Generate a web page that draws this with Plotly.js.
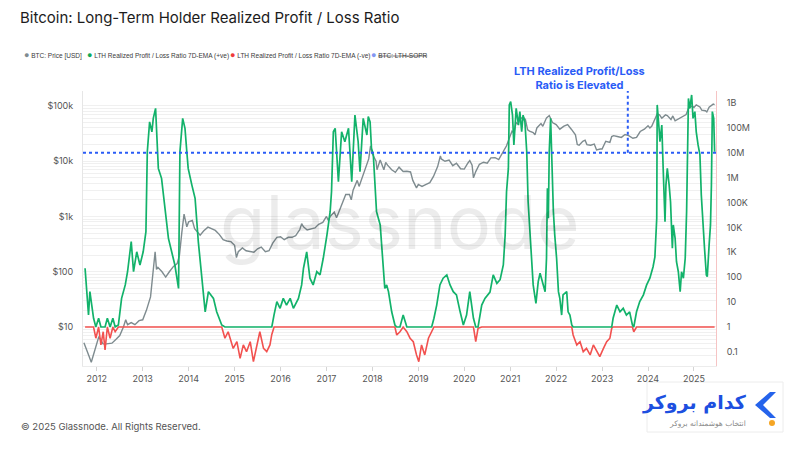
<!DOCTYPE html>
<html>
<head>
<meta charset="utf-8">
<script src="https://cdn.plot.ly/plotly-3.0.1.min.js"></script>
<style>html,body{margin:0;padding:0;background:#fff;}#chart{width:800px;height:450px;}</style>
</head>
<body>
<div id="chart"></div>
<script>
// ---------- DATA ----------
const yearTicks = [2012,2013,2014,2015,2016,2017,2018,2019,2020,2021,2022,2023,2024,2025];
const yearTickText = ['2012','2013','2014','2015','2016','2017','2018','2019','2020','2021','2022','2023','2024','2025'];

const priceTickVals = [10,100,1000,10000,100000];
const priceTickText = ['$10','$100','$1k','$10k','$100k'];
const ratioTickVals = [0.1,1,10,100,1e3,1e4,1e5,1e6,1e7,1e8,1e9];
const ratioTickText = ['0.1','1','10','100','1K','10K','100K','1M','10M','100M','1B'];

// BTC price [USD]
const priceYears = [2011.72,2011.78,2011.83,2011.88,2011.92,2011.96,2012.00,2012.04,2012.08,2012.13,2012.17,2012.25,2012.33,2012.42,2012.50,2012.58,2012.63,2012.67,2012.75,2012.83,2012.92,
2013.00,2013.08,2013.17,2013.22,2013.27,2013.30,2013.33,2013.42,2013.50,2013.58,2013.67,2013.75,2013.80,2013.85,2013.90,2013.96,
2014.00,2014.08,2014.13,2014.25,2014.33,2014.42,2014.50,2014.58,2014.67,2014.75,2014.83,2014.92,
2015.00,2015.04,2015.08,2015.17,2015.25,2015.33,2015.42,2015.50,2015.58,2015.67,2015.75,2015.83,2015.92,
2016.00,2016.08,2016.17,2016.25,2016.33,2016.42,2016.46,2016.50,2016.58,2016.67,2016.75,2016.83,2016.92,
2017.00,2017.04,2017.08,2017.17,2017.22,2017.25,2017.33,2017.42,2017.50,2017.54,2017.58,2017.67,2017.71,2017.75,2017.83,2017.92,2017.96,
2018.00,2018.08,2018.10,2018.17,2018.25,2018.29,2018.33,2018.42,2018.50,2018.58,2018.67,2018.75,2018.83,2018.88,2018.96,
2019.00,2019.08,2019.17,2019.25,2019.33,2019.42,2019.48,2019.50,2019.58,2019.67,2019.75,2019.83,2019.92,
2020.00,2020.08,2020.12,2020.17,2020.20,2020.25,2020.33,2020.42,2020.50,2020.58,2020.67,2020.75,2020.83,2020.92,
2021.00,2021.04,2021.08,2021.13,2021.17,2021.21,2021.28,2021.33,2021.38,2021.42,2021.50,2021.54,2021.58,2021.67,2021.71,2021.79,2021.85,2021.92,
2022.00,2022.08,2022.17,2022.25,2022.33,2022.42,2022.46,2022.50,2022.58,2022.63,2022.67,2022.75,2022.83,2022.88,2022.96,
2023.00,2023.08,2023.17,2023.21,2023.25,2023.33,2023.42,2023.50,2023.58,2023.67,2023.75,2023.83,2023.92,
2024.00,2024.04,2024.08,2024.17,2024.20,2024.25,2024.30,2024.38,2024.42,2024.50,2024.54,2024.59,2024.67,2024.75,2024.83,2024.88,2024.96,
2025.00,2025.05,2025.13,2025.17,2025.25,2025.28,2025.33,2025.40,2025.42,2025.45];
const priceUsd = [5.2,4.0,3.0,2.3,3.0,4.1,5.5,6.5,6.0,5.0,4.9,5.0,5.1,6.0,7.0,10.0,13.5,11.0,12.0,11.0,13.0,
13.5,20,35,90,230,110,120,100,80,100,125,140,200,500,1100,650,
800,850,600,460,550,640,600,560,470,380,360,350,
300,180,230,270,240,235,225,260,280,230,240,330,420,
430,380,420,420,450,580,740,650,570,600,620,720,780,
1000,850,1000,1200,950,1100,1500,2500,2500,2000,3000,4500,3500,4400,6500,11000,19000,
13500,10000,7000,10500,7000,9500,8500,7000,6300,7800,6500,6600,6400,4500,3300,
3800,3500,3800,4100,5300,8000,12500,11000,10000,10500,8300,9200,7300,
7200,9300,10300,8500,5000,6500,8800,9600,9200,11500,11600,10700,13800,19000,
29000,35000,33000,50000,47000,58000,63000,57000,37000,35000,33000,30000,40000,48000,43000,61000,67000,50000,
46000,38000,43000,46000,38000,30000,20000,19500,23000,24000,20000,19500,20500,16000,16600,
16600,23000,22000,28000,29000,28000,27000,30500,29000,26000,27000,34500,38000,
44000,40000,43000,62000,72000,69000,60000,69000,67000,57000,66000,54000,59000,63000,70000,90000,100000,
94000,105000,96000,84000,82000,78000,95000,104000,108000,106000];

// LTH Realized Profit / Loss Ratio 7D-EMA, read as log10 values
const ratioYears = [2011.745,2011.82,2011.85,2011.93,2011.98,2012.04,2012.09,2012.14,2012.18,2012.23,2012.29,2012.35,2012.40,2012.47,2012.54,2012.62,2012.67,2012.75,2012.80,2012.87,2012.94,
2013.01,2013.07,2013.10,2013.15,2013.20,2013.23,2013.28,2013.34,2013.41,2013.49,2013.56,2013.63,2013.70,2013.78,2013.81,2013.87,2013.92,2013.96,2013.99,
2014.07,2014.14,2014.21,2014.29,2014.36,2014.43,2014.54,2014.61,2014.72,2014.79,2014.86,2014.97,
2015.05,2015.12,2015.19,2015.26,2015.34,2015.41,2015.48,2015.55,2015.63,2015.70,2015.77,2015.81,2015.86,2015.92,2015.99,
2016.06,2016.13,2016.21,2016.28,2016.39,2016.46,2016.50,2016.57,2016.64,2016.71,2016.79,2016.86,2016.93,
2017.01,2017.08,2017.11,2017.15,2017.19,2017.26,2017.33,2017.40,2017.48,2017.55,2017.62,2017.69,2017.73,2017.80,2017.88,2017.91,2017.95,2017.98,
2018.02,2018.09,2018.17,2018.24,2018.27,2018.31,2018.35,2018.42,2018.49,2018.53,2018.60,2018.67,2018.75,2018.82,2018.89,2018.96,
2019.01,2019.07,2019.14,2019.22,2019.29,2019.34,2019.40,2019.47,2019.54,2019.62,2019.69,2019.76,2019.83,2019.91,2019.98,
2020.05,2020.12,2020.20,2020.25,2020.30,2020.38,2020.45,2020.56,2020.63,2020.71,2020.78,2020.85,2020.89,2020.92,2020.96,2020.98,
2021.01,2021.05,2021.08,2021.13,2021.18,2021.21,2021.25,2021.28,2021.32,2021.36,2021.39,2021.43,2021.47,2021.50,2021.56,2021.61,2021.65,2021.71,2021.76,2021.79,2021.81,2021.83,2021.85,2021.88,2021.90,2021.94,2021.97,
2022.01,2022.05,2022.08,2022.12,2022.15,2022.23,2022.26,2022.30,2022.34,2022.37,2022.45,2022.52,2022.59,2022.66,2022.74,2022.81,2022.88,2022.95,
2023.03,2023.10,2023.17,2023.21,2023.24,2023.32,2023.39,2023.46,2023.53,2023.60,2023.66,2023.69,2023.75,2023.82,2023.90,2023.97,
2024.04,2024.11,2024.15,2024.19,2024.20,2024.22,2024.24,2024.26,2024.30,2024.33,2024.37,2024.39,2024.42,2024.46,2024.49,2024.53,2024.55,2024.59,2024.62,2024.66,2024.70,2024.73,2024.77,2024.81,2024.84,2024.88,2024.91,2024.95,2024.98,
2025.02,2025.05,2025.09,2025.13,2025.16,2025.20,2025.23,2025.27,2025.29,2025.33,2025.36,2025.38,2025.40,2025.43,2025.45];
const ratioLog10 = [2.36,0.48,1.42,0.35,-0.45,0.35,-0.72,-0.19,-0.92,0.35,-0.45,0.35,-0.19,0.08,1.15,1.69,2.22,3.43,2.22,3.02,2.49,
3.02,3.83,7.04,8.24,7.84,8.38,8.78,6.37,5.97,4.63,3.56,3.02,2.49,1.55,7.04,8.38,7.98,7.04,6.37,
5.70,5.17,3.43,1.96,0.61,1.42,1.15,0.61,0.08,-0.45,-0.19,-0.86,
-0.59,-1.26,-0.72,-0.99,-0.59,-1.39,-0.72,-0.19,-0.86,-0.99,-0.72,-0.30,0.50,1.02,0.75,
1.15,0.88,1.15,0.75,1.15,1.69,2.36,3.02,1.96,1.69,2.22,2.09,2.76,
3.69,4.63,5.43,7.84,7.98,5.84,7.84,7.44,7.98,5.84,8.51,7.44,6.24,8.38,7.71,8.45,8.24,7.18,
6.91,4.63,4.10,2.22,1.55,1.69,1.42,0.61,0.08,-0.32,-0.19,0.48,-0.19,-0.45,-0.59,-1.12,
-1.39,-0.72,-1.12,-0.45,-0.19,0.35,0.88,1.69,1.96,2.09,1.69,1.42,1.29,0.61,0.08,
0.48,1.42,0.35,-0.59,-0.05,0.88,1.15,1.40,2.09,1.75,1.90,2.49,3.69,5.43,6.37,8.92,
9.05,8.51,7.31,8.78,8.11,8.65,7.84,8.51,8.24,7.04,5.03,3.69,2.49,1.69,0.95,1.82,2.16,1.69,1.42,2.76,5.57,4.37,7.04,8.38,7.04,4.63,3.69,
2.76,1.42,1.15,0.48,1.29,1.42,0.61,0.48,0.08,-0.32,-0.72,-0.59,-0.99,-0.86,-1.12,-0.72,-0.99,-1.19,
-0.86,-0.59,-0.45,-0.05,0.35,0.88,0.61,0.75,0.48,0.61,0.08,-0.19,0.61,1.02,1.29,1.69,
1.96,2.42,2.82,4.37,8.92,8.24,7.98,7.44,8.11,6.37,4.23,5.70,6.37,5.70,5.03,3.16,4.10,3.56,2.62,2.22,1.42,2.22,1.96,2.76,4.63,9.18,8.78,9.32,8.38,
8.65,7.84,7.31,6.91,5.30,3.83,3.16,2.09,2.02,3.29,4.10,5.70,8.65,8.38,7.04];

const breakEven = 1;               // ratio = 1 separates +ve / -ve
const elevatedThreshold = 1e7;     // "elevated" reference level
const elevatedMarkerYear = 2023.56;
const elevatedMarkerTop = 3e9;

// ---------- DERIVED SERIES ----------
const ratio = ratioLog10.map(v => Math.pow(10, v));
const ratioPos = ratio.map(v => Math.max(v, breakEven));
const ratioNeg = ratio.map(v => Math.min(v, breakEven));

// ---------- LAYOUT HELPERS ----------
const W = 800, H = 450, L = 83, R = 716, T = 91, B = 366;
const px = x => (x - L) / (R - L);
const py = y => (B - y) / (B - T);
const xRange = [2011.70, 2025.48];

// left-axis grid lines (decades and 2..9 minors), labels only on decades
const gridVals = [], gridText = [];
for (let e = 0; e <= 5; e++) {
  for (let m = 1; m <= 9; m++) {
    const v = m * Math.pow(10, e);
    if (v < 2 || v > 200000) continue;
    gridVals.push(v);
    const idx = priceTickVals.indexOf(v);
    gridText.push(idx >= 0 ? priceTickText[idx] : '');
  }
}

const traces = [
  {x: priceYears, y: priceUsd, type: 'scatter', mode: 'lines', yaxis: 'y',
   line: {color: '#7e8b8f', width: 1.4}, name: 'BTC: Price [USD]'},
  {x: ratioYears, y: ratioNeg, type: 'scatter', mode: 'lines', yaxis: 'y2',
   line: {color: '#f2514f', width: 1.6}, name: 'LTH Realized Profit / Loss Ratio 7D-EMA (-ve)'},
  {x: ratioYears, y: ratioPos, type: 'scatter', mode: 'lines', yaxis: 'y2',
   line: {color: '#12b26a', width: 1.7}, name: 'LTH Realized Profit / Loss Ratio 7D-EMA (+ve)'},
  {x: xRange, y: [elevatedThreshold, elevatedThreshold], type: 'scatter', mode: 'lines', yaxis: 'y2',
   line: {color: '#2a5cf6', width: 2, dash: 'dot'}, name: 'threshold'},
  {x: [elevatedMarkerYear, elevatedMarkerYear], y: [elevatedThreshold, elevatedMarkerTop], type: 'scatter', mode: 'lines', yaxis: 'y2',
   line: {color: '#2a5cf6', width: 2, dash: 'dot'}, name: 'marker'}
];

const legendItems = [
  {x: 22, color: '#7f8b90', text: 'BTC: Price [USD]'},
  {x: 84.5, color: '#0fa958', text: 'LTH Realized Profit / Loss Ratio 7D-EMA (+ve)'},
  {x: 228, color: '#ef3b3b', text: 'LTH Realized Profit / Loss Ratio 7D-EMA (-ve)'},
  {x: 369, color: '#8396f2', text: '<s>BTC: LTH-SOPR</s>'}
];

const annotations = legendItems.map(it => ({
  xref: 'paper', yref: 'paper', x: px(it.x), y: py(55), xanchor: 'left', yanchor: 'middle',
  showarrow: false, text: "<span style='color:" + it.color + ";font-size:9px'>●</span> " + it.text,
  font: {family: 'Liberation Sans, Arial, sans-serif', size: 6.5, color: '#3a3a3a'}
}));

annotations.push(
  {xref: 'paper', yref: 'paper', x: px(400), y: py(222), xanchor: 'center', yanchor: 'middle',
   showarrow: false, text: 'glassnode',
   font: {family: 'Inter, Roboto, sans-serif', size: 74, color: 'rgba(0,0,0,0.075)'}},
  {xref: 'paper', yref: 'paper', x: px(579), y: py(77.5), xanchor: 'center', yanchor: 'middle',
   showarrow: false, align: 'center', text: '<b>LTH Realized Profit/Loss<br>Ratio is Elevated</b>',
   font: {family: 'Inter, Roboto, sans-serif', size: 11, color: '#2a5cf6'}},
  {xref: 'paper', yref: 'paper', x: px(19), y: py(426), xanchor: 'left', yanchor: 'middle',
   showarrow: false, text: '© 2025 Glassnode. All Rights Reserved.',
   font: {family: 'Inter, Roboto, sans-serif', size: 9.5, color: '#555'}},
  {xref: 'paper', yref: 'paper', x: px(749), y: py(402), xanchor: 'right', yanchor: 'middle',
   showarrow: false, text: '<b>کدام بروکر</b>',
   font: {family: 'DejaVu Sans, sans-serif', size: 19, color: '#1d4fe0'}},
  {xref: 'paper', yref: 'paper', x: px(748), y: py(423.5), xanchor: 'right', yanchor: 'middle',
   showarrow: false, text: 'انتخاب هوشمندانه بروکر',
   font: {family: 'DejaVu Sans, sans-serif', size: 7.5, color: '#8a8a8a'}}
);

const shapes = [
  {type: 'rect', xref: 'paper', yref: 'paper', x0: px(647), x1: px(783), y0: py(432), y1: py(382),
   fillcolor: '#ffffff', line: {color: '#ececec', width: 1}, layer: 'below'},
  {type: 'path', xref: 'paper', yref: 'paper',
   path: 'M ' + px(770) + ',' + py(392) + ' L ' + px(755) + ',' + py(405) + ' L ' + px(770) + ',' + py(418) +
         ' L ' + px(776) + ',' + py(418) + ' L ' + px(763) + ',' + py(405) + ' L ' + px(776) + ',' + py(392) + ' Z',
   fillcolor: '#2563eb', line: {width: 0}},
  {type: 'circle', xref: 'paper', yref: 'paper', x0: px(769), x1: px(775), y0: py(426), y1: py(420),
   fillcolor: '#f5a524', line: {width: 0}}
];

const layout = {
  width: W, height: H,
  margin: {l: L, r: W - R, t: T, b: H - B, pad: 0},
  paper_bgcolor: '#ffffff', plot_bgcolor: '#ffffff',
  showlegend: false,
  hovermode: false,
  title: {text: 'Bitcoin: Long-Term Holder Realized Profit / Loss Ratio',
          xref: 'container', yref: 'container', x: 20 / W, xanchor: 'left', y: 1 - 18 / H, yanchor: 'middle',
          font: {family: 'Inter, Roboto, sans-serif', size: 15, color: '#1c1c1c'}},
  font: {family: 'Inter, Roboto, sans-serif', color: '#555'},
  xaxis: {type: 'linear', range: xRange, tickmode: 'array', tickvals: yearTicks, ticktext: yearTickText,
          ticks: 'outside', ticklen: 4, tickcolor: '#d4d4d4', showgrid: false, zeroline: false,
          showline: true, linecolor: '#ececec', linewidth: 1,
          tickfont: {size: 9, color: '#555'}},
  yaxis: {type: 'log', range: [0.294, 5.271], tickmode: 'array', tickvals: gridVals, ticktext: gridText,
          ticks: '', showgrid: true, gridcolor: '#f0f0f0', gridwidth: 1, zeroline: false,
          showline: true, linecolor: '#e6e6e6', ticklabelstandoff: 7,
          tickfont: {size: 9, color: '#555'}},
  yaxis2: {type: 'log', overlaying: 'y', side: 'right', range: [-1.566, 9.478],
           tickmode: 'array', tickvals: ratioTickVals, ticktext: ratioTickText,
           ticks: '', showgrid: false, zeroline: false,
           showline: true, linecolor: '#f6c4c4', linewidth: 1, ticklabelstandoff: 8,
           tickfont: {size: 9, color: '#555'}},
  annotations: annotations,
  shapes: shapes
};

Plotly.newPlot('chart', traces, layout, {staticPlot: true, displayModeBar: false});
</script>
</body>
</html>
